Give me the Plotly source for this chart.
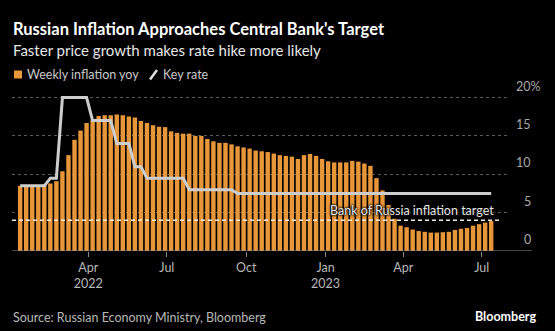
import pandas as pd
import plotly.graph_objects as go

# Weekly observations (Wednesdays), Jan 2022 - Jul 2023
dates = pd.date_range("2022-01-12", periods=79, freq="7D")

# Weekly consumer inflation, year over year, %
inflation_yoy = [
    8.5, 8.6, 8.6, 8.6, 8.7, 8.8, 9.1, 10.4, 12.5, 14.5,
    15.7, 16.7, 17.1, 17.6, 17.7, 17.7, 17.8, 17.7, 17.55, 17.4,
    16.95, 16.7, 16.4, 16.2, 16.15, 15.6, 15.4, 15.3, 15.3, 15.0,
    15.0, 14.6, 14.3, 14.1, 14.1, 13.9, 13.65, 13.5, 13.35, 13.1,
    13.0, 12.9, 12.7, 12.5, 12.4, 12.3, 12.0, 12.5, 12.65, 12.4,
    12.0, 11.7, 11.55, 11.55, 11.55, 11.75, 11.65, 11.4, 11.1, 9.5,
    7.9, 6.0, 4.2, 3.3, 3.1, 2.8, 2.6, 2.5, 2.4, 2.4,
    2.45, 2.5, 2.75, 2.9, 3.0, 3.3, 3.5, 3.7, 3.9,
]

# Bank of Russia key rate, %
key_rate = [
    8.5, 8.5, 8.5, 8.5, 8.5, 9.5, 9.5, 20, 20, 20,
    20, 20, 17, 17, 17, 17, 14, 14, 14, 11,
    11, 9.5, 9.5, 9.5, 9.5, 9.5, 9.5, 9.5, 8, 8,
    8, 8, 8, 8, 8, 8, 7.5, 7.5, 7.5, 7.5,
    7.5, 7.5, 7.5, 7.5, 7.5, 7.5, 7.5, 7.5, 7.5, 7.5,
    7.5, 7.5, 7.5, 7.5, 7.5, 7.5, 7.5, 7.5, 7.5, 7.5,
    7.5, 7.5, 7.5, 7.5, 7.5, 7.5, 7.5, 7.5, 7.5, 7.5,
    7.5, 7.5, 7.5, 7.5, 7.5, 7.5, 7.5, 7.5, 7.5,
]

inflation_target = 4

x_tick_dates = ["2022-04-01", "2022-07-01", "2022-10-01", "2023-01-01", "2023-04-01", "2023-07-01"]
x_tick_labels = ["Apr<br>2022", "Jul", "Oct", "Jan<br>2023", "Apr", "Jul"]
y_tick_values = [0, 5, 10, 15, 20]
y_tick_labels = ["0", "5", "10", "15", "20%"]

series_names = ["Weekly inflation yoy", "Key rate"]

ORANGE = "#E8963A"
RATE_GREY = "#CDCDCD"
FONT = "Lato"

W, H = 555, 331
ML, MR, MT, MB = 12, 47, 85, 80
PW, PH = W - ML - MR, H - MT - MB


def px_x(px):
    return (px - ML) / PW


def px_y(py):
    return (H - MB - py) / PH


fig = go.Figure()
fig.add_trace(go.Bar(
    x=dates, y=inflation_yoy, name=series_names[0],
    marker=dict(color=ORANGE, line=dict(width=0)),
    showlegend=False,
))
fig.add_trace(go.Scatter(
    x=dates, y=key_rate, name=series_names[1], mode="lines",
    line=dict(color=RATE_GREY, width=3),
    showlegend=False,
))

shapes = [
    # baseline running under the value labels
    dict(type="line", xref="paper", yref="y", x0=0, x1=px_x(532), y0=0, y1=0,
         line=dict(color="#8a8a8a", width=1), layer="above"),
    # inflation target
    dict(type="line", xref="paper", yref="y", x0=0, x1=px_x(500),
         y0=inflation_target, y1=inflation_target,
         line=dict(color="#F2EBDD", width=1.6, dash="4px,3px"), layer="above"),
    # legend swatches
    dict(type="rect", xref="paper", yref="paper", x0=px_x(14), x1=px_x(22),
         y0=px_y(78.5), y1=px_y(70.5), fillcolor=ORANGE, line=dict(width=0)),
    dict(type="line", xref="paper", yref="paper", x0=px_x(150), x1=px_x(157),
         y0=px_y(79.5), y1=px_y(70), line=dict(color="#E0E0E0", width=2.5)),
]

annotations = [
    dict(text="<b>Russian Inflation Approaches Central Bank's Target</b>",
         xref="paper", yref="paper", x=px_x(11), y=px_y(29), xanchor="left", yanchor="middle",
         showarrow=False, font=dict(family=FONT, size=16.5, color="#FFFFFF")),
    dict(text="Faster price growth makes rate hike more likely",
         xref="paper", yref="paper", x=px_x(11), y=px_y(50), xanchor="left", yanchor="middle",
         showarrow=False, font=dict(family=FONT, size=15, color="#E6E6E6")),
    dict(text=series_names[0], xref="paper", yref="paper", x=px_x(25), y=px_y(75),
         xanchor="left", yanchor="middle", showarrow=False,
         font=dict(family=FONT, size=12.5, color="#C8C8C8")),
    dict(text=series_names[1], xref="paper", yref="paper", x=px_x(161), y=px_y(75),
         xanchor="left", yanchor="middle", showarrow=False,
         font=dict(family=FONT, size=12.5, color="#C8C8C8")),
    dict(text="Bank of Russia inflation target", xref="paper", yref="y",
         x=px_x(496), y=inflation_target, xanchor="right", yanchor="bottom", yshift=0,
         showarrow=False,
         font=dict(family=FONT, size=12.5, color="#E6E6E6",
                   shadow="0px 0px 2px #000, 0px 0px 2px #000, 0px 0px 3px #000")),
    dict(text="Source: Russian Economy Ministry, Bloomberg", xref="paper", yref="paper",
         x=px_x(11), y=px_y(317), xanchor="left", yanchor="middle", showarrow=False,
         font=dict(family=FONT, size=12.5, color="#B8B8B8")),
    dict(text="<b>Bloomberg</b>", xref="paper", yref="paper",
         x=px_x(538), y=px_y(316), xanchor="right", yanchor="middle", showarrow=False,
         font=dict(family=FONT, size=12.5, color="#FFFFFF")),
]

# value labels sit just above their gridlines, right-aligned
for v, lab in zip(y_tick_values, y_tick_labels):
    right = 543 if lab.endswith("%") else 533
    annotations.append(dict(
        text=lab, xref="paper", yref="y", x=px_x(right), y=v,
        xanchor="right", yanchor="bottom", yshift=2, showarrow=False,
        font=dict(family=FONT, size=12.5, color="#A8A8A8"),
    ))

fig.update_layout(
    width=W, height=H,
    margin=dict(l=ML, r=MR, t=MT, b=MB, pad=0),
    paper_bgcolor="#000000", plot_bgcolor="#000000",
    bargap=0.27,
    showlegend=False,
    shapes=shapes,
    annotations=annotations,
    xaxis=dict(
        type="date",
        range=["2022-01-02 13:00", "2023-07-31 12:00"],
        tickvals=x_tick_dates, ticktext=x_tick_labels,
        ticks="outside", ticklen=5, tickcolor="#8a8a8a", tickwidth=1,
        showgrid=False, showline=False, zeroline=False,
        tickfont=dict(family=FONT, size=12.5, color="#B8B8B8"),
    ),
    yaxis=dict(
        range=[0, PH / 7.67],
        tickvals=y_tick_values, showticklabels=False,
        showgrid=True, gridcolor="#5a5a5a", gridwidth=1, griddash="dot",
        zeroline=False, showline=False, ticks="",
    ),
)

fig.write_html("out.html")
